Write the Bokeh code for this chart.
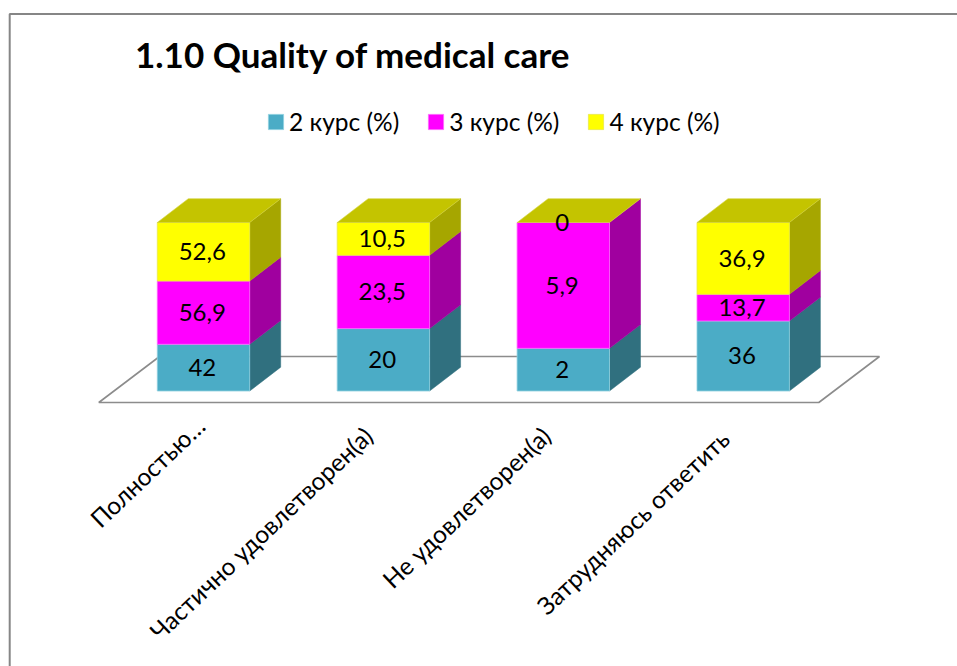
from bokeh.plotting import figure
from bokeh.models import Legend, LegendItem
from bokeh.core.properties import value
from bokeh.embed import file_html
from bokeh.resources import INLINE
import math

title_text = "1.10 Quality of medical care"
categories = ["Полностью…", "Частично удовлетворен(а)", "Не удовлетворен(а)", "Затрудняюсь ответить"]
series_names = ["2 курс (%)", "3 курс (%)", "4 курс (%)"]
kurs2 = [42, 20, 2, 36]
kurs3 = [56.9, 23.5, 5.9, 13.7]
kurs4 = [52.6, 10.5, 0, 36.9]

FONT = "Lato"
front_cols = ["#4BACC6", "#FF00FF", "#FFFF00"]
side_cols = ["#30707F", "#A0009F", "#A6A600"]
edge_cols = ["#8FD0E0", "#FF66FF", "#E8E84A"]
label_shift_px = [(-3, 421), (-15, 431), (-17, 431), (-18, 434)]

# page-pixel to data helpers: category spacing and percent scale
SPX, X0PX = 179.9, 203.0
SPY, Y0PX = 1.685, 390.5
W, H = 957, 666
def X(px): return (px - X0PX) / SPX
def Y(py): return (Y0PX - py) / SPY

half = 46.2 / SPX
dx, dy = 31 / SPX, 23.8 / SPY

p = figure(width=W, height=H, x_range=(X(0), X(W)), y_range=(Y(H), Y(0)),
           output_backend="svg", toolbar_location=None, min_border=0,
           x_axis_location=None, y_axis_location=None, outline_line_color=None)
p.grid.visible = False
p.background_fill_color = "white"
p.border_fill_color = "white"

# chart frame
p.line([X(9.2), X(9.2), X(W)], [Y(H), Y(13.5), Y(13.5)], line_color="#868686", line_width=2)

# floor
p.patch([X(98.3), X(159), X(879), X(818.3)], [Y(402), Y(356), Y(356), Y(402)],
        fill_color="white", line_color="#8C8C8C", line_width=1.6)

legend_rs = [None, None, None]
for i in range(len(categories)):
    vals = [kurs2[i], kurs3[i], kurs4[i]]
    total = sum(vals)
    l, r = i - half, i + half
    base = 0.0
    for s, v in enumerate(vals):
        h = v / total * 100
        if h > 0:
            p.patch([r, r + dx, r + dx, r], [base, base + dy, base + h + dy, base + h],
                    fill_color=side_cols[s], line_color=side_cols[s], line_width=0.5)
            q = p.quad(left=l, right=r, bottom=base, top=base + h,
                       fill_color=front_cols[s], line_color=edge_cols[s], line_width=0.8)
            if legend_rs[s] is None:
                legend_rs[s] = q
        base += h
    p.patch([l, l + dx, r + dx, r], [100, 100 + dy, 100 + dy, 100],
            fill_color="#C4C400", line_color="#D4D440", line_width=0.6)

# value labels
for i in range(len(categories)):
    vals = [kurs2[i], kurs3[i], kurs4[i]]
    total = sum(vals)
    base = 0.0
    for v in vals:
        h = v / total * 100
        p.text([i - 1.2 / SPX], [base + h / 2], text=[f"{v:g}".replace(".", ",")],
               text_align="center", text_baseline="middle", text_color="black",
               text_font=value(FONT), text_font_size="24px")
        base += h

# title
p.text([X(134.5)], [Y(53)], text=[title_text], text_align="left", text_baseline="middle",
       text_font=value(FONT), text_font_style="bold", text_font_size="35px", text_color="black")

# category labels
for i, c in enumerate(categories):
    sx, sy = label_shift_px[i]
    p.text([i + sx / SPX], [Y(sy)], text=[c], angle=math.radians(43.5),
           text_align="right", text_baseline="middle", text_color="black",
           text_font=value(FONT), text_font_size="24.5px")

# legend
legend = Legend(items=[LegendItem(label=n, renderers=[r]) for n, r in zip(series_names, legend_rs)],
                orientation="horizontal", location=(266, H - 136), margin=0, padding=0,
                spacing=27, glyph_width=19, glyph_height=19, label_standoff=4,
                label_text_font=FONT, label_text_font_size="24.5px", label_text_color="black",
                border_line_color=None, background_fill_alpha=0, label_height=20)
p.add_layout(legend, "center")

open("out.html", "w").write(file_html(p, INLINE))
